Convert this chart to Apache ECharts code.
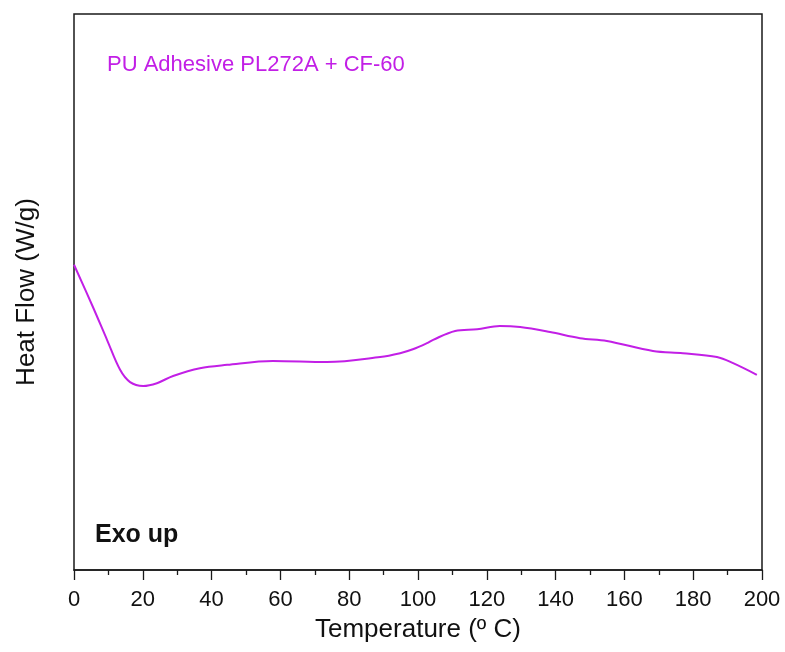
<!DOCTYPE html>
<html>
<head>
<meta charset="utf-8">
<script src="https://cdn.jsdelivr.net/npm/echarts@6/dist/echarts.min.js"></script>
<style>
  html, body { margin: 0; padding: 0; background: #fff; }
  #chart { width: 785px; height: 652px; }
</style>
</head>
<body>
<div id="chart"></div>
<script>
// DSC trace: temperature (°C) against relative heat flow (arbitrary units)
const temperature = [0, 5.5, 9.6, 13.4, 16.3, 20.1, 24.1, 28.8, 36.6, 44.5, 57.8, 73.5, 89.0, 94.8, 98.5, 102.6, 104.4, 110.8, 117.2, 123.8, 129.7, 138.4, 147.1, 154.9, 168.3, 177.0, 186.9, 191.6, 198.5];
const heatFlow    = [54.9, 47.3, 41.4, 36.0, 33.8, 33.1, 33.6, 34.9, 36.3, 36.9, 37.6, 37.4, 38.3, 39.0, 39.7, 40.8, 41.4, 43.0, 43.3, 43.9, 43.7, 42.8, 41.7, 41.2, 39.4, 39.0, 38.3, 37.2, 35.1];
const xTicks = [0, 20, 40, 60, 80, 100, 120, 140, 160, 180, 200];

const seriesName = 'PU Adhesive PL272A + CF-60';
const lineColor = '#c21fe6';
const font = '"Liberation Sans", Arial, sans-serif';

const chart = echarts.init(document.getElementById('chart'), null, { renderer: 'canvas' });

chart.setOption({
  animation: false,
  backgroundColor: '#ffffff',
  grid: {
    left: 74, right: 23, top: 14, bottom: 82,
    outerBoundsMode: 'none', containLabel: false,
    show: true, borderColor: '#1a1a1a', borderWidth: 1.5, backgroundColor: 'transparent'
  },
  xAxis: {
    type: 'value',
    min: xTicks[0], max: xTicks[xTicks.length - 1], interval: 20,
    name: 'Temperature (º C)',
    nameLocation: 'middle', nameGap: 47,
    nameTextStyle: { fontFamily: font, fontSize: 26, color: '#111' },
    axisLine: { show: true, onZero: false, lineStyle: { color: '#1a1a1a', width: 1.5 } },
    axisTick: { show: true, inside: false, length: 10, lineStyle: { color: '#1a1a1a', width: 1.3 } },
    minorTick: { show: true, splitNumber: 2, length: 5, lineStyle: { color: '#1a1a1a', width: 1.3 } },
    axisLabel: { fontFamily: font, fontSize: 22, color: '#111', margin: 19 },
    splitLine: { show: false }
  },
  yAxis: {
    type: 'value',
    min: 0, max: 100,
    name: 'Heat Flow (W/g)',
    nameLocation: 'middle', nameGap: 34, nameRotate: 90,
    nameTextStyle: { fontFamily: font, fontSize: 26, color: '#111' },
    axisLine: { show: false },
    axisTick: { show: false },
    axisLabel: { show: false },
    splitLine: { show: false }
  },
  series: [{
    name: seriesName,
    type: 'line',
    data: temperature.map((t, i) => [t, heatFlow[i]]),
    smooth: 0.35,
    showSymbol: false,
    lineStyle: { color: lineColor, width: 2 },
    itemStyle: { color: lineColor }
  }],
  graphic: [
    {
      type: 'text', x: 107, y: 65,
      style: { text: seriesName, font: '22px ' + font, fill: lineColor, verticalAlign: 'middle' }
    },
    {
      type: 'text', x: 95, y: 535,
      style: { text: 'Exo up', font: 'bold 25px ' + font, fill: '#111', verticalAlign: 'middle' }
    }
  ]
});
</script>
</body>
</html>
